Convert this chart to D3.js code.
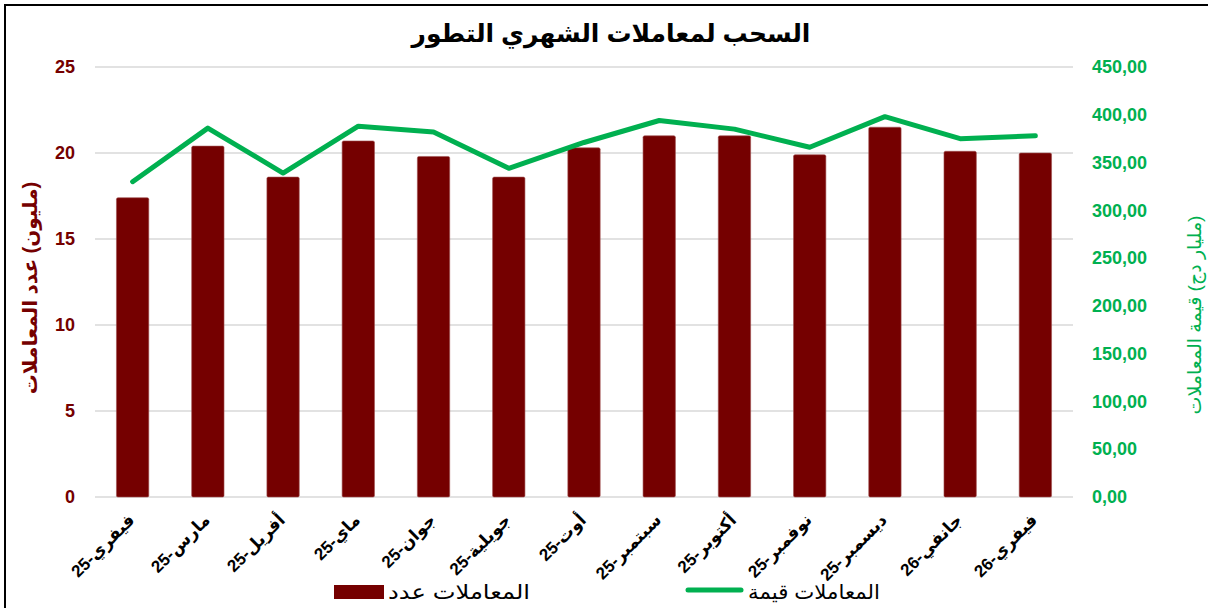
<!DOCTYPE html>
<html>
<head>
<meta charset="utf-8">
<script src="https://cdn.jsdelivr.net/npm/d3@7"></script>
<style>
  body { margin: 0; background: #fff; }
  svg { display: block; font-family: "Liberation Sans", Arial, "DejaVu Sans", sans-serif; }
</style>
</head>
<body>
<div id="container"></div>
<script>
// monthly data
const months = ["فيفري-25", "مارس-25", "أفريل-25", "ماي-25", "جوان-25", "جويلية-25", "أوت-25",
  "سبتمبر-25", "أكتوبر-25", "نوفمبر-25", "ديسمبر-25", "جانفي-26", "فيفري-26"];
const txCount = [17.4, 20.4, 18.6, 20.7, 19.8, 18.6, 20.3, 21.0, 21.0, 19.9, 21.5, 20.1, 20.0];
const txValue = [330, 386, 339, 388, 382, 344, 371, 394, 385, 366, 398, 375, 378];
const leftTicks = [0, 5, 10, 15, 20, 25];
const rightTicks = [0, 50, 100, 150, 200, 250, 300, 350, 400, 450];

const title = "التطور الشهري لمعاملات السحب";
// axis titles as they appear in the source (unit placed at the end)
const leftTitle = "(مليون) عدد المعاملات";
const rightTitle = "(مليار دج) قيمة المعاملات";
const barName = "عدد المعاملات";
const lineName = "قيمة المعاملات";

const W = 1208, H = 608;
const RED = "#750000", GREEN = "#00B050";
const margin = { left: 95, right: 1073, top: 67, bottom: 497 };

// the source shows these words in left-to-right order
const flipWords = s => s.split(" ").reverse().join(" ");

const svg = d3.select("#container").append("svg")
  .attr("width", W).attr("height", H);

// frame
svg.append("rect")
  .attr("x", 5).attr("y", 5).attr("width", W + 10).attr("height", H + 10)
  .attr("fill", "none").attr("stroke", "#000").attr("stroke-width", 2);

const x = d3.scaleBand().domain(months).range([margin.left, margin.right]).paddingInner(0.57).paddingOuter(0.285);
const yL = d3.scaleLinear().domain([0, 25]).range([margin.bottom, margin.top]);
const yR = d3.scaleLinear().domain([0, 450]).range([margin.bottom, margin.top]);

// gridlines
svg.append("g").selectAll("line").data(leftTicks).enter().append("line")
  .attr("x1", margin.left).attr("x2", margin.right)
  .attr("y1", d => yL(d)).attr("y2", d => yL(d))
  .attr("stroke", "#d9d9d9").attr("stroke-width", 1.5);

// left axis
const axL = svg.append("g")
  .attr("transform", `translate(${margin.left - 20},0)`)
  .call(d3.axisLeft(yL).tickValues(leftTicks).tickSize(0).tickPadding(0));
axL.select(".domain").remove();
axL.selectAll("text").attr("fill", RED).attr("font-size", 18).attr("font-weight", "bold")
  .attr("font-family", "Liberation Sans, Arial, sans-serif");

// right axis
const axR = svg.append("g")
  .attr("transform", `translate(${margin.right + 19},0)`)
  .call(d3.axisRight(yR).tickValues(rightTicks).tickSize(0).tickPadding(0)
    .tickFormat(d => d3.format(".2f")(d).replace(".", ",")));
axR.select(".domain").remove();
axR.selectAll("text").attr("fill", GREEN).attr("font-size", 18).attr("font-weight", "bold")
  .attr("font-family", "Liberation Sans, Arial, sans-serif");

// bars
svg.append("g").selectAll("rect").data(months).enter().append("rect")
  .attr("x", d => x(d)).attr("width", x.bandwidth())
  .attr("y", (d, i) => yL(txCount[i]))
  .attr("height", (d, i) => yL(0) - yL(txCount[i]))
  .attr("rx", 1.5)
  .attr("fill", RED).attr("stroke", "#a05050").attr("stroke-width", 0.6);

// line
const line = d3.line()
  .x((d, i) => x(months[i]) + x.bandwidth() / 2)
  .y(d => yR(d));
svg.append("path").datum(txValue)
  .attr("d", line)
  .attr("fill", "none").attr("stroke", GREEN).attr("stroke-width", 5)
  .attr("stroke-linejoin", "round").attr("stroke-linecap", "round");

// month labels
svg.append("g").selectAll("text").data(months).enter().append("text")
  .attr("transform", d => `translate(${x(d) + x.bandwidth() / 2 - 3},${margin.bottom + 18}) rotate(-45)`)
  .attr("text-anchor", "end")
  .attr("dy", "0.5em")
  .attr("font-size", 17).attr("font-weight", "bold").attr("fill", "#000")
  .text(d => d);

// title
svg.append("text")
  .attr("x", 611).attr("y", 42)
  .attr("text-anchor", "middle")
  .attr("font-size", 25).attr("font-weight", "bold").attr("fill", "#000")
  .text(flipWords(title));

// axis titles
svg.append("text")
  .attr("transform", "translate(37,288) rotate(-90)")
  .attr("direction", "rtl")
  .attr("text-anchor", "middle")
  .attr("font-size", 20).attr("font-weight", "bold").attr("fill", RED)
  .text(leftTitle);
svg.append("text")
  .attr("transform", "translate(1201,315) rotate(-90)")
  .attr("direction", "rtl")
  .attr("text-anchor", "middle")
  .attr("font-size", 19).attr("fill", GREEN)
  .text(rightTitle);

// legend
const lg = svg.append("g");
lg.append("rect").attr("x", 334).attr("y", 585).attr("width", 50).attr("height", 14).attr("fill", RED);
lg.append("text").attr("x", 388).attr("y", 599).attr("font-size", 20).attr("fill", "#000")
  .attr("textLength", 142).attr("lengthAdjust", "spacingAndGlyphs")
  .text(flipWords(barName));
lg.append("line").attr("x1", 688).attr("x2", 741).attr("y1", 590).attr("y2", 590)
  .attr("stroke", GREEN).attr("stroke-width", 5).attr("stroke-linecap", "round");
lg.append("text").attr("x", 748).attr("y", 599).attr("font-size", 20).attr("fill", "#000")
  .attr("textLength", 132).attr("lengthAdjust", "spacingAndGlyphs")
  .text(flipWords(lineName));
</script>
</body>
</html>
